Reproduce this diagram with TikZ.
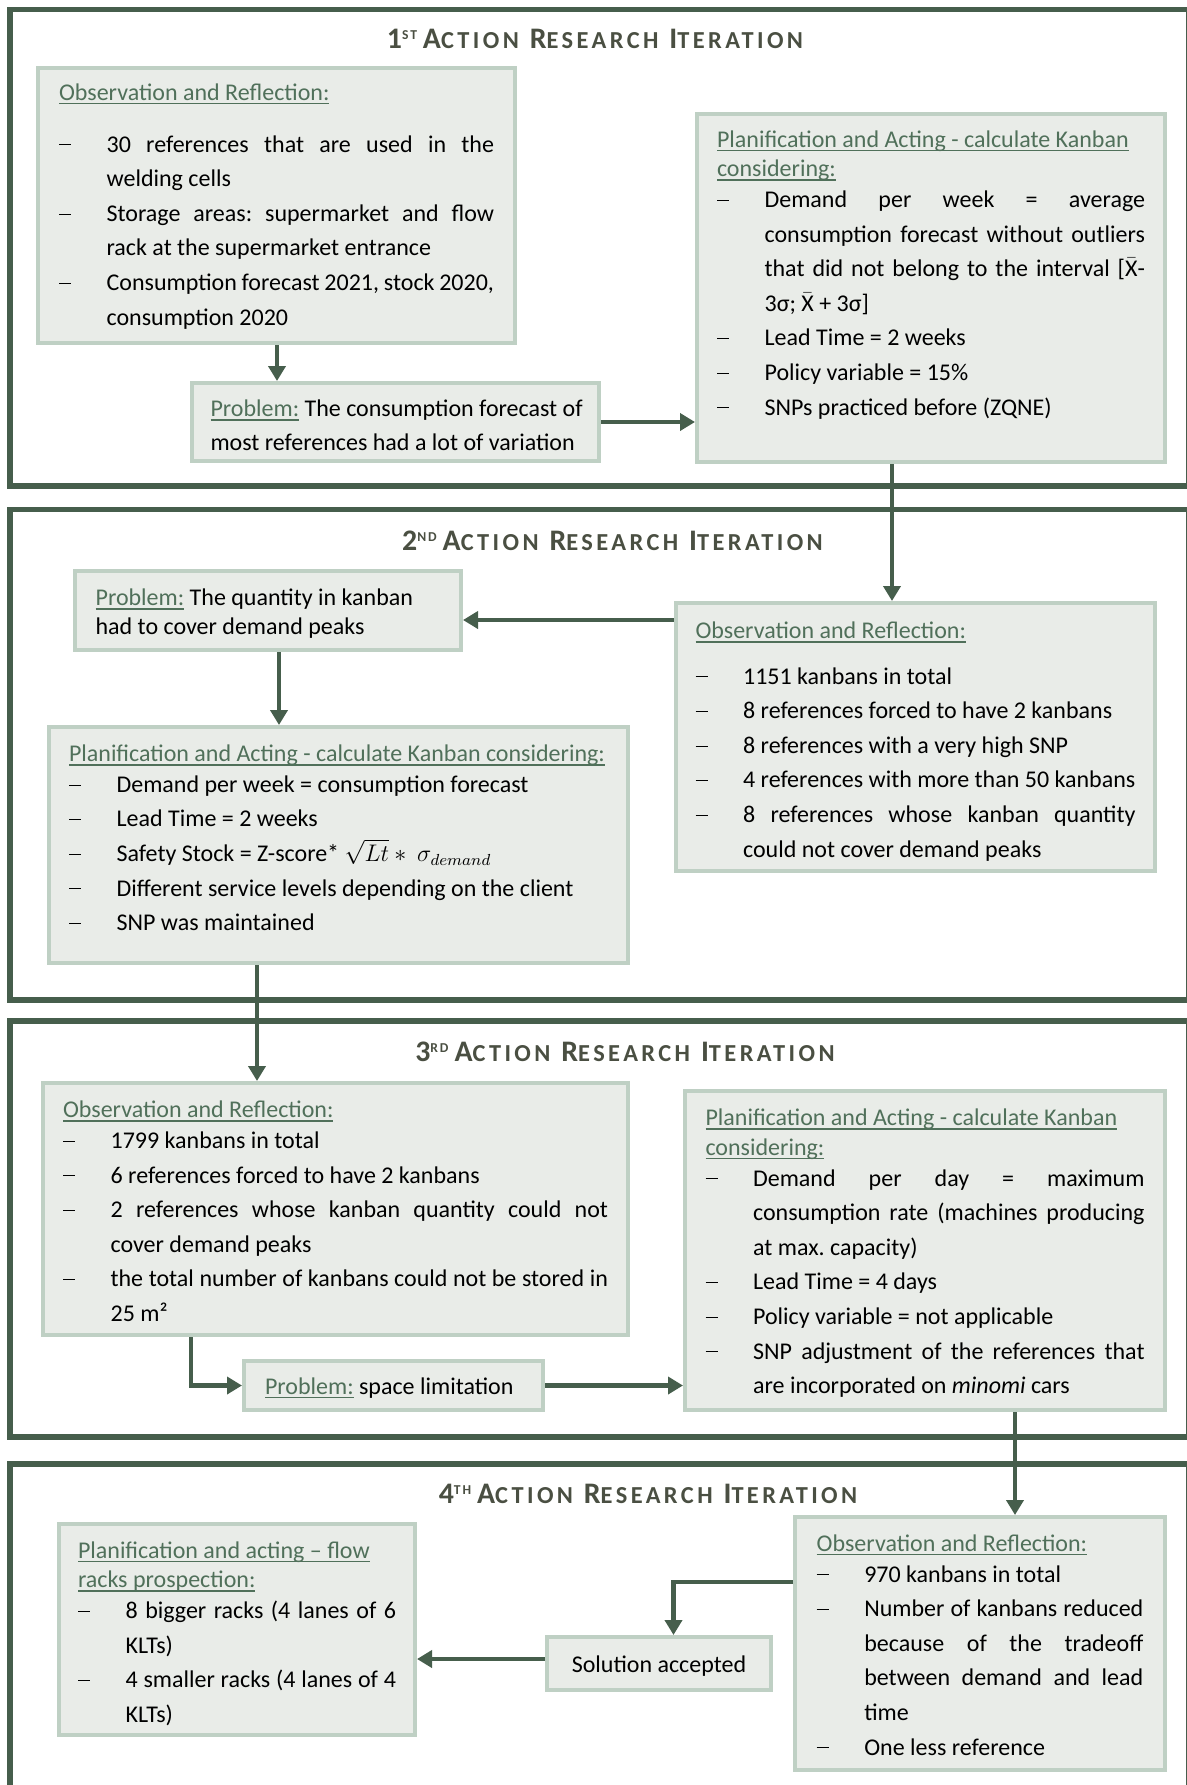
\documentclass[tikz,border=0pt]{standalone}
\usepackage{fontspec}
\setmainfont{Carlito}
\newfontfamily\titlefont[LetterSpace=14]{Carlito}
\usepackage{amsmath}
\usetikzlibrary{arrows.meta,calc,positioning}

\definecolor{frame}{HTML}{465E4C}
\definecolor{titlecol}{HTML}{4A4F42}
\definecolor{boxfill}{HTML}{E9ECE8}
\definecolor{boxline}{HTML}{BFD0C4}
\definecolor{hdcol}{HTML}{50705A}

\hyphenpenalty=10000
\tolerance=9999
\hbadness=10000
\frenchspacing

% underline, header line and list items inside the boxes
\newcommand{\ul}[1]{\leavevmode\setbox0\hbox{#1}\rlap{\rule[-2.1pt]{\wd0}{0.7pt}}\box0}
\newcommand{\hd}[2][-1.9pt]{{\baselineskip=14.8pt\color{hdcol}#2\par}\vspace{#1}}
\newcommand{\itm}{\par\noindent\hangindent=23.8pt\hangafter=1\makebox[23.8pt][l]{\rule[3.3pt]{6.2pt}{0.55pt}}}
\newcommand{\prb}{{\color{hdcol}\ul{Problem:}}}
\newcommand{\xbar}{\ensuremath{\bar{\text{X}}}}
\newcommand{\sm}[1]{{\fontsize{12.2}{13}\selectfont #1}}
\newcommand{\ttl}[2]{#1\raisebox{4.2pt}{\fontsize{6.8}{7}\selectfont #2}\hspace{3pt}A\sm{CTION} R\sm{ESEARCH} I\sm{TERATION}}

\begin{document}
\begin{tikzpicture}[x=0.5pt, y=-0.5pt,
	box/.style={draw=boxline, fill=boxfill, line width=2pt, anchor=north west,
		inner ysep=0pt, align=justify, font=\fontsize{12}{17.3}\selectfont},
	ttlnode/.style={anchor=base, text=titlecol, inner sep=0pt,
		font=\titlefont\bfseries\fontsize{14.9}{16}\selectfont},
	arr/.style={draw=frame, line width=2.4pt, -{Triangle[length=7.5pt,width=8.5pt]}},
	iter/.style={draw=frame, line width=2.9pt}]
	\path[fill=white, use as bounding box] (0,0) rectangle (1187,1785);

	% Iteration frames
	\draw[iter] (10,9.5) rectangle (1189,486);
	\draw[iter] (10,509.5) rectangle (1189,1000);
	\draw[iter] (10,1021) rectangle (1189,1437);
	\draw[iter] (10,1464) rectangle (1189,1800);

	% Titles
	\node[ttlnode] (title1) at (595,48) {\ttl{1}{ST}};
	\node[ttlnode] (title2) at (612.5,550) {\ttl{2}{ND}};
	\node[ttlnode] (title3) at (625,1061) {\ttl{3}{RD}};
	\node[ttlnode] (title4) at (648,1503) {\ttl{4}{TH}};

	% 1st iteration
	\node[box, inner xsep=10.5pt, text width=217.5pt, text height=16pt, text depth=121.5pt] (obs1) at (36,66) {%
		\hd[8.7pt]{\ul{Observation and Reflection:}}
		\itm 30 references that are used in the \linebreak welding cells
		\itm Storage areas: supermarket and flow \linebreak rack at the supermarket entrance
		\itm Consumption forecast 2021, stock 2020, \linebreak consumption 2020\par};
	\node[box, inner xsep=9.25pt, text width=185pt, text height=16.75pt, text depth=22.25pt, align=flush left,
		font=\fontsize{12}{17}\selectfont] (prob1) at (190,381) {%
		\mbox{\prb{} The consumption forecast of}\\\mbox{most references had a lot of variation}};
	\node[box, inner xsep=10pt, text width=214pt, text height=16.5pt, text depth=157.5pt] (plan1) at (695,112) {%
		\hd{\ul{Planification and Acting - calculate Kanban}\newline\ul{considering:}}
		\itm Demand per week = average \linebreak consumption forecast without outliers \linebreak that did not belong to the interval [\xbar-\linebreak 3σ; \xbar{} + 3σ]
		\itm Lead Time = 2 weeks
		\itm Policy variable = 15\%
		\itm SNPs practiced before (ZQNE)\par};

	% 2nd iteration
	\node[box, inner xsep=9.75pt, text width=220pt, text height=17.75pt, text depth=116.25pt] (obs2) at (674,601) {%
		\hd[5.45pt]{\ul{Observation and Reflection:}}
		\itm 1151 kanbans in total
		\itm 8 references forced to have 2 kanbans
		\itm 8 references with a very high SNP
		\itm 4 references with more than 50 kanbans
		\itm 8 references whose kanban quantity \linebreak could not cover demand peaks\par};
	\node[box, inner xsep=10.3pt, text width=172.4pt, text height=17.25pt, text depth=22.25pt, align=flush left,
		font=\fontsize{12}{14.25}\selectfont] (prob2) at (73,569) {%
		\mbox{\prb{} The quantity in kanban}\\\mbox{had to cover demand peaks}};
	\node[box, inner xsep=10pt, text width=269.5pt, text height=17.2pt, text depth=100.8pt] (plan2) at (47,725) {%
		\hd{\ul{Planification and Acting - calculate Kanban considering:}}
		\itm Demand per week = consumption forecast
		\itm Lead Time = 2 weeks
		\itm Safety Stock = Z-score* $\sqrt{Lt} *\ \sigma_{demand}$
		\itm Different service levels depending on the client
		\itm SNP was maintained\par};

	% 3rd iteration
	\node[box, inner xsep=10pt, text width=272.5pt, text height=17.3pt, text depth=108.7pt] (obs3) at (41,1081) {%
		\hd{\ul{Observation and Reflection:}}
		\itm 1799 kanbans in total
		\itm 6 references forced to have 2 kanbans
		\itm 2 references whose kanban quantity could not \linebreak cover demand peaks
		\itm the total number of kanbans could not be stored in \linebreak 25 m²\par};
	\node[box, inner xsep=10.5pt, text width=128.5pt, text height=16.5pt, text depth=8pt, align=flush left] (prob3) at (242,1359) {%
		\mbox{\prb{} space limitation}};
	\node[box, inner xsep=10.25pt, text width=219.5pt, text height=17.3pt, text depth=142.2pt] (plan3) at (683,1089) {%
		\hd{\ul{Planification and Acting - calculate Kanban}\newline\ul{considering:}}
		\itm Demand per day = maximum \linebreak consumption rate (machines producing \linebreak at max. capacity)
		\itm Lead Time = 4 days
		\itm Policy variable = not applicable
		\itm SNP adjustment of the references that \linebreak are incorporated on \emph{minomi} cars\par};

	% 4th iteration
	\node[box, inner xsep=10.85pt, text width=163.3pt, text height=17.1pt, text depth=109.4pt] (obs4) at (793,1515) {%
		\hd{\ul{Observation and Reflection:}}
		\itm 970 kanbans in total
		\itm Number of kanbans reduced \linebreak because of the tradeoff \linebreak between demand and lead \linebreak time
		\itm One less reference\par};
	\node[box, inner xsep=0pt, text width=112pt, text height=17.5pt, text depth=9pt, align=flush center] (sol) at (545,1635) {Solution accepted};
	\node[box, inner xsep=9.5pt, text width=159pt, text height=17pt, text depth=88.5pt] (plan4) at (57,1522) {%
		\hd{\ul{Planification and acting -- flow}\newline\ul{racks prospection:}}
		\itm 8 bigger racks (4 lanes of 6 \linebreak KLTs)
		\itm 4 smaller racks (4 lanes of 4 \linebreak KLTs)\par};

	% Draw edges
	\coordinate (a1) at ($(obs1.south west)+(241,0)$);
	\draw[arr] (a1) -- (a1 |- prob1.north);
	\draw[arr] (prob1.east) -- (prob1.east -| plan1.west);
	\coordinate (a3) at ($(plan1.south west)+(197,0)$);
	\draw[arr] (a3) -- (a3 |- obs2.north);
	\coordinate (a4) at ($(obs2.north west)+(0,19)$);
	\draw[arr] (a4) -- (a4 -| prob2.east);
	\coordinate (a5) at ($(prob2.south west)+(206,0)$);
	\draw[arr] (a5) -- (a5 |- plan2.north);
	\coordinate (a6) at ($(plan2.south west)+(210,0)$);
	\draw[arr] (a6) -- (a6 |- obs3.north);
	\coordinate (a7) at ($(obs3.south west)+(150,0)$);
	\draw[arr] (a7) |- (prob3.west);
	\draw[arr] (prob3.east) -- (prob3.east -| plan3.west);
	\coordinate (a9) at ($(plan3.south west)+(332,0)$);
	\draw[arr] (a9) -- (a9 |- obs4.north);
	\coordinate (a10) at ($(obs4.north west)+(0,67)$);
	\coordinate (b10) at ($(sol.north west)+(128.5,0)$);
	\draw[arr] (a10) -| (b10);
	\coordinate (a11) at ($(sol.north west)+(0,24)$);
	\draw[arr] (a11) -- (a11 -| plan4.east);
\end{tikzpicture}
\end{document}
